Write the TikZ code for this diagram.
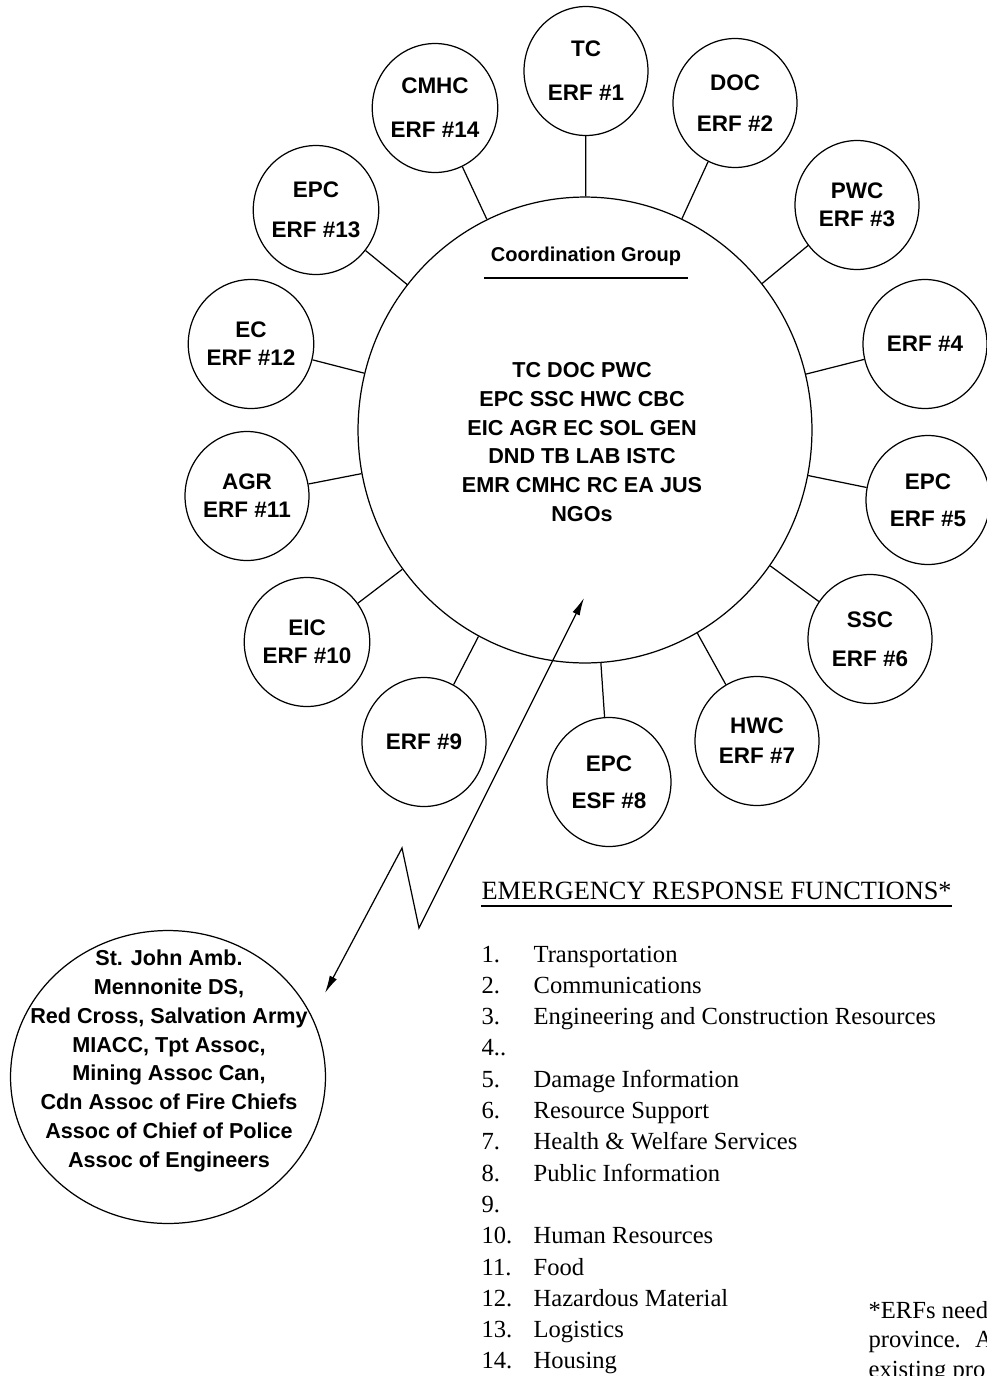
\documentclass[tikz,border=0pt]{standalone}
\usepackage{fontspec}
\setmainfont{Liberation Serif}
\setsansfont{Liberation Sans}
\usetikzlibrary{shapes,arrows.meta,calc}

\begin{document}
\begin{tikzpicture}[x=0.02cm, y=-0.02cm, >={Latex[length=10pt,width=4.5pt]}, line width=0.7pt,
  erf/.style={ellipse, draw, inner sep=0pt, minimum width=2.48cm, minimum height=2.58cm,
    align=center, font=\sffamily\bfseries\fontsize{12.8}{15}\selectfont},
  members/.style={align=center, font=\sffamily\bfseries\fontsize{12.3}{16.4}\selectfont},
  listtext/.style={anchor=base west, inner sep=0pt, font=\fontsize{14}{17}\selectfont}]

\useasboundingbox (0,0) rectangle (987,1376);
\clip (0,0) rectangle (987,1376);

% coordination group
\node[ellipse, draw, minimum width=9.08cm, minimum height=9.32cm] at (585, 430) (cg) {};
\node[members, font=\sffamily\bfseries\fontsize{11.4}{13}\selectfont] at (586, 256) (cgtitle) {Coordination Group};
\draw ([yshift=-9.6pt]cgtitle.base west) -- ([yshift=-9.6pt]cgtitle.base east);
\node[members] at (582, 442) (cgmembers) {TC DOC PWC\\EPC SSC HWC CBC\\EIC AGR EC SOL GEN\\DND TB LAB ISTC\\EMR CMHC RC EA JUS\\NGOs};

% ERF circles
\node[erf] at (586, 71) (e1) {TC\\[10pt]ERF \#1};
\node[erf] at (735, 103) (e2) {DOC\\[8pt]ERF \#2};
\node[erf] at (857, 205) (e3) {PWC\\[1pt]ERF \#3};
\node[erf] at (925, 344) (e4) {ERF \#4};
\node[erf] at (928, 500) (e5) {EPC\\[6pt]ERF \#5};
\node[erf] at (870, 639) (e6) {SSC\\[7pt]ERF \#6};
\node[erf] at (757, 741) (e7) {HWC\\[2pt]ERF \#7};
\node[erf] at (609, 782) (e8) {EPC\\[6pt]ESF \#8};
\node[erf] at (424, 742) (e9) {ERF \#9};
\node[erf] at (307, 642) (e10) {EIC\\[1pt]ERF \#10};
\node[erf] at (247, 496) (e11) {AGR\\[1pt]ERF \#11};
\node[erf] at (251, 344) (e12) {EC\\[1pt]ERF \#12};
\node[erf] at (316, 210) (e13) {EPC\\[8pt]ERF \#13};
\node[erf] at (435, 108) (e14) {CMHC\\[10pt]ERF \#14};

\foreach \i in {1,...,14}
  \draw (cg) -- (e\i);

% NGO circle and link
\node[ellipse, draw, minimum width=6.3cm, minimum height=5.86cm] at (168, 1077) (ngo) {};
\node[members] at (169, 1061) (ngolist) {St. John Amb.\\Mennonite DS,\\Red Cross, Salvation Army\\MIACC, Tpt Assoc,\\Mining Assoc Can,\\Cdn Assoc of Fire Chiefs\\Assoc of Chief of Police\\Assoc of Engineers};

\coordinate (ngotip) at (325, 993);
\coordinate (zagtop) at (402, 848);
\coordinate (zagbot) at (419, 928);
\coordinate (cgtip) at (584, 598);
\draw[<->] (ngotip) -- (zagtop) -- (zagbot) -- (cgtip);

% list of functions
\node[listtext, font=\fontsize{15}{17}\selectfont] at (481, 899) (erfhead) {EMERGENCY RESPONSE FUNCTIONS*};
\draw[line width=1pt] ([yshift=-4pt]erfhead.base west) -- ([yshift=-4pt]erfhead.base east);

\foreach \num/\erftext [count=\k from 0] in {1./Transportation, 2./Communications,
    3./Engineering and Construction Resources, 4../, 5./Damage Information,
    6./Resource Support, 7./Health \& Welfare Services, 8./Public Information, 9./,
    10./Human Resources, 11./Food, 12./Hazardous Material, 13./Logistics, 14./Housing} {
  \node[listtext] at (481, 962+31.3*\k) (num\k) {\num};
  \node[listtext] at (533, 962+31.3*\k) (item\k) {\erftext};
}

% footnote
\foreach \line [count=\k from 0] in {*ERFs need, province.~ A, existing pro}
  \node[listtext] at (868, 1318+29.5*\k) (note\k) {\line};

\end{tikzpicture}
\end{document}
